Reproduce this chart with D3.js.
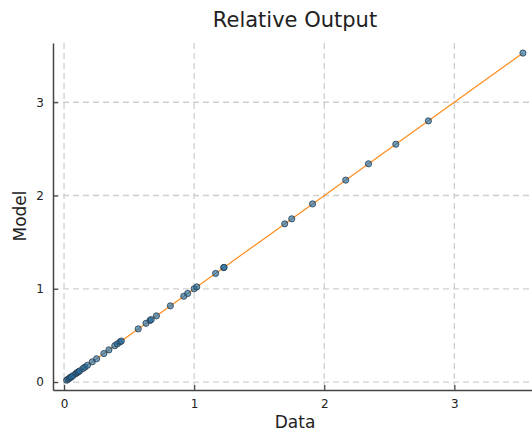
<!DOCTYPE html>
<html>
<head>
<meta charset="utf-8">
<script src="https://cdn.jsdelivr.net/npm/d3@7"></script>
<style>
 body { margin:0; background:#fff; }
 text { font-family:"DejaVu Sans", sans-serif; fill:#222; }
</style>
</head>
<body>
<script>
// data
var dataVals  = [0.02,0.03,0.04,0.05,0.055,0.07,0.09,0.1,0.11,0.12,0.145,0.16,0.18,0.217,0.25,0.306,0.345,0.39,0.41,0.43,0.44,0.57,0.63,0.66,0.67,0.71,0.817,0.92,0.95,1.0,1.02,1.165,1.227,1.23,1.696,1.75,1.91,2.165,2.34,2.55,2.80,3.527];
var modelVals = [0.02,0.03,0.04,0.05,0.055,0.07,0.09,0.1,0.11,0.12,0.145,0.16,0.18,0.217,0.25,0.306,0.345,0.39,0.41,0.43,0.44,0.57,0.63,0.66,0.67,0.71,0.817,0.92,0.95,1.0,1.02,1.165,1.227,1.23,1.696,1.75,1.91,2.165,2.34,2.55,2.80,3.527];
var xTicks = [0,1,2,3];
var yTicks = [0,1,2,3];

var W = 532, H = 437;
var mLeft = 53, mRight = 537, mTop = 43, mBottom = 390;

var svg = d3.select("body").append("svg")
    .attr("width",W)
    .attr("height",H);

var x = d3.scaleLinear().domain([-0.085,3.635]).range([mLeft,mRight]);
var y = d3.scaleLinear().domain([-0.085,3.635]).range([mBottom,mTop]);

// grid
svg.append("g").selectAll("line").data(xTicks).enter().append("line")
   .attr("x1",function(d){return x(d);}).attr("x2",function(d){return x(d);})
   .attr("y1",mTop).attr("y2",mBottom)
   .attr("stroke","#cfcfcf").attr("stroke-dasharray","6,4").attr("stroke-width",1.3);
svg.append("g").selectAll("line").data(yTicks).enter().append("line")
   .attr("y1",function(d){return y(d);}).attr("y2",function(d){return y(d);})
   .attr("x1",mLeft).attr("x2",mRight)
   .attr("stroke","#cfcfcf").attr("stroke-dasharray","6,4").attr("stroke-width",1.3);

// axes
var xAxis = svg.append("g").attr("transform","translate(0,"+mBottom+")")
   .call(d3.axisBottom(x).tickValues(xTicks).tickFormat(d3.format("d")).tickSizeInner(-5).tickSizeOuter(0).tickPadding(9));
var yAxis = svg.append("g").attr("transform","translate("+mLeft+",0)")
   .call(d3.axisLeft(y).tickValues(yTicks).tickFormat(d3.format("d")).tickSizeInner(-5).tickSizeOuter(0).tickPadding(9));
[xAxis,yAxis].forEach(function(a){
  a.select(".domain").attr("stroke","#444").attr("stroke-width",1.5);
  a.selectAll(".tick line").attr("stroke","#444").attr("stroke-width",1.2);
  a.selectAll(".tick text").attr("font-size",12).attr("font-family","DejaVu Sans").attr("fill","#222");
});

// 1:1 line
var ext = d3.extent(dataVals);
var line = d3.line().x(function(d){return x(d);}).y(function(d){return y(d);});
svg.append("path")
   .attr("d",line(ext))
   .attr("stroke","#ff8c1a").attr("stroke-width",1.2).attr("fill","none");

// points
svg.append("g").selectAll("circle").data(dataVals).enter().append("circle")
   .attr("cx",function(d){return x(d);})
   .attr("cy",function(d,i){return y(modelVals[i]);})
   .attr("r",3.1)
   .attr("fill","#1f6fa8").attr("fill-opacity",0.65)
   .attr("stroke","#2a3a48").attr("stroke-width",0.8);

// labels
svg.append("text").attr("x",295).attr("y",27).attr("text-anchor","middle")
   .attr("font-size",21).text("Relative Output");
svg.append("text").attr("x",295).attr("y",428).attr("text-anchor","middle")
   .attr("font-size",17).text("Data");
svg.append("text").attr("transform","translate(26,216) rotate(-90)").attr("text-anchor","middle")
   .attr("font-size",17).text("Model");
</script>
</body>
</html>
